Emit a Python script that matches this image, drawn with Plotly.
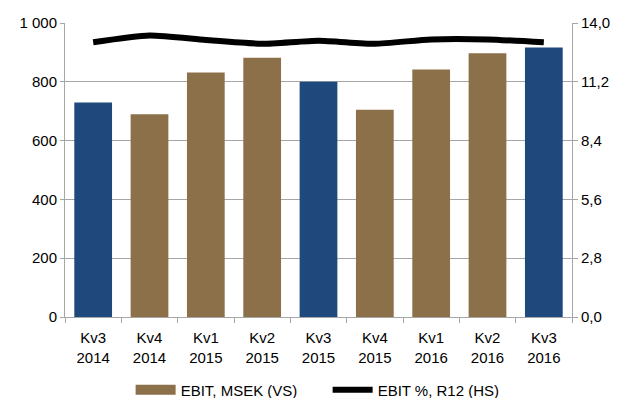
import plotly.graph_objects as go

categories = ["Kv3<br>2014", "Kv4<br>2014", "Kv1<br>2015", "Kv2<br>2015", "Kv3<br>2015",
              "Kv4<br>2015", "Kv1<br>2016", "Kv2<br>2016", "Kv3<br>2016"]
ebit_msek = [730, 690, 832, 882, 800, 705, 842, 897, 917]
ebit_pct_r12 = [13.08, 13.40, 13.19, 13.01, 13.16, 13.01, 13.22, 13.22, 13.08]
highlight = [True, False, False, False, True, False, False, False, True]

BLUE = "#1F497D"
BROWN = "#8B7049"
GRID = "#A6A6A6"
FONT = "Liberation Sans, Arial, sans-serif"

bar_colors = [BLUE if h else BROWN for h in highlight]

fig = go.Figure()
fig.add_trace(go.Bar(
    x=categories, y=ebit_msek, marker=dict(color=bar_colors, line=dict(width=0)),
    showlegend=False, name="EBIT, MSEK (VS)", yaxis="y",
))
# legend entry for bars (wide swatch like the original)
fig.add_trace(go.Scatter(
    x=[None], y=[None], mode="lines", line=dict(color=BROWN, width=11),
    name="EBIT, MSEK (VS)", yaxis="y",
))
fig.add_trace(go.Scatter(
    x=categories, y=ebit_pct_r12, mode="lines",
    line=dict(color="black", width=6, shape="spline", smoothing=0.6),
    name="EBIT %, R12 (HS)", yaxis="y2",
))

fig.update_layout(
    width=619, height=398,
    margin=dict(l=65, r=47, t=23, b=81, autoexpand=False),
    paper_bgcolor="white", plot_bgcolor="white",
    font=dict(family=FONT, size=15, color="#000000"),
    separators=", ",
    bargap=0.33,
    xaxis=dict(
        type="category", showgrid=False, showline=True, linecolor=GRID, linewidth=1,
        ticks="outside", tickson="boundaries", ticklen=5, tickcolor=GRID,
        tickfont=dict(size=15), range=[-0.5, 8.5], ticklabelstandoff=7,
    ),
    yaxis=dict(
        range=[0, 1000], dtick=200, tickformat=",d", showgrid=True, gridcolor=GRID,
        gridwidth=1, showline=True, linecolor=GRID, linewidth=1, ticks="outside",
        ticklen=4, tickcolor=GRID, zeroline=False, tickfont=dict(size=15),
    ),
    yaxis2=dict(
        range=[0, 14], dtick=2.8, tick0=0, tickformat=".1f", overlaying="y", side="right",
        showgrid=False, showline=True, linecolor=GRID, linewidth=1, ticks="outside",
        ticklen=5, tickcolor=GRID, zeroline=False, tickfont=dict(size=15),
    ),
    legend=dict(
        orientation="h", x=0.518, xanchor="center", y=-0.248, yanchor="middle",
        font=dict(size=15), itemwidth=40, tracegroupgap=0, bgcolor="rgba(0,0,0,0)",
        entrywidth=142, entrywidthmode="pixels",
    ),
)

fig.write_html("out.html")
